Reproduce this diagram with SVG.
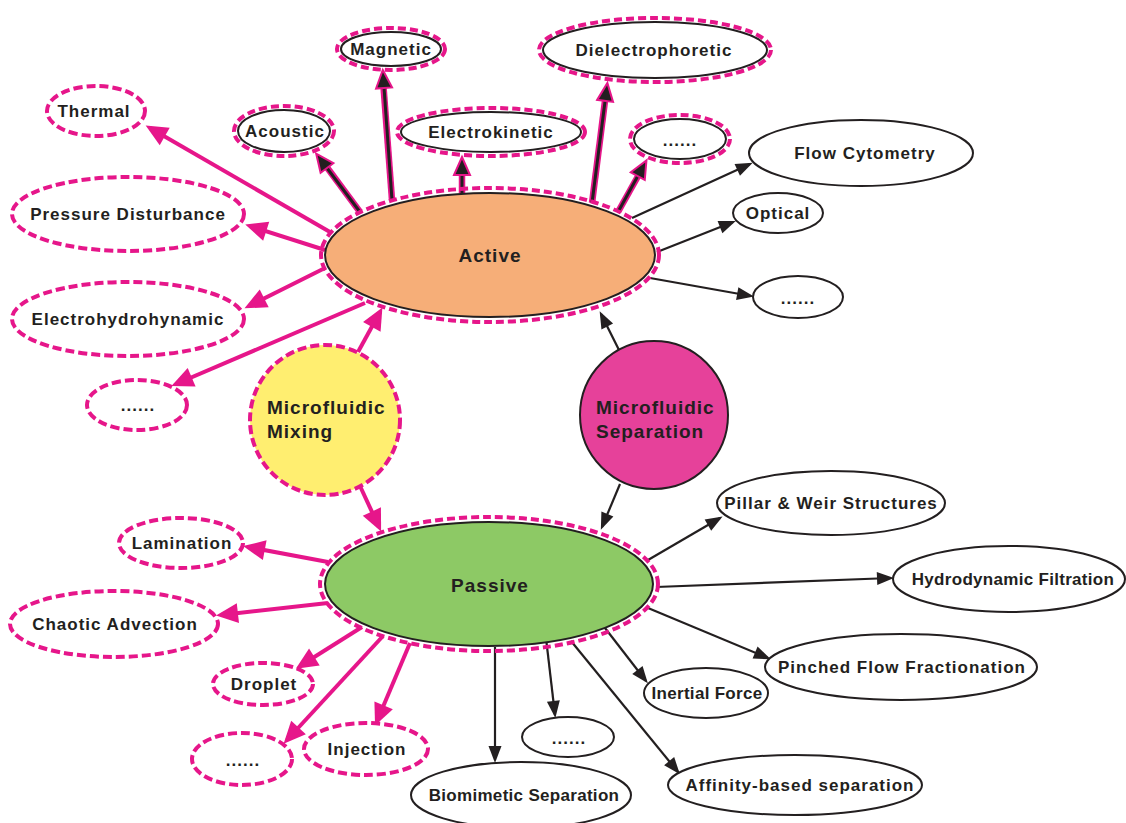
<svg xmlns="http://www.w3.org/2000/svg" width="1126" height="823" viewBox="0 0 1126 823">
<style>
text{font-family:"Liberation Sans",Arial,sans-serif;font-weight:bold;font-size:17px;letter-spacing:1px;fill:#231F20;text-anchor:middle}
.big{font-size:19px}
.lt{text-anchor:start}
.nar{letter-spacing:0.3px}
.pd{fill:#fff;stroke:#E6168A;stroke-width:4;stroke-dasharray:9 4}
.pd2{fill:none;stroke:#E6168A;stroke-width:4;stroke-dasharray:8 4}
.bk{fill:#fff;stroke:#231F20;stroke-width:2}
.pk{fill:none;stroke:#E6168A;stroke-width:4;marker-end:url(#mP)}
.pbo{fill:none;stroke:#E6168A;stroke-width:6.5}
.pbi{fill:none;stroke:#231F20;stroke-width:3;marker-end:url(#mPB)}
.bl{fill:none;stroke:#231F20;stroke-width:2.2;marker-end:url(#mB)}
</style>
<defs>
<marker id="mP" markerUnits="userSpaceOnUse" markerWidth="24" markerHeight="22" refX="17" refY="10" orient="auto" overflow="visible"><path d="M0,0 L22,10 L0,20 z" fill="#E6168A"/></marker>
<marker id="mB" markerUnits="userSpaceOnUse" markerWidth="18" markerHeight="14" refX="14" refY="6.5" orient="auto" overflow="visible"><path d="M0,0 L17,6.5 L0,13 z" fill="#231F20"/></marker>
<marker id="mPB" markerUnits="userSpaceOnUse" markerWidth="20" markerHeight="18" refX="15" refY="8" orient="auto" overflow="visible"><path d="M0,0 L18,8 L0,16 z" fill="#231F20" stroke="#E6168A" stroke-width="2"/></marker>
</defs>
<rect width="1126" height="823" fill="#fff"/>
<g id="connectors">
<path class="pk" d="M330,232 L150,128"/>
<path class="pk" d="M325,250 L250,226"/>
<path class="pk" d="M325,268 L249,306"/>
<path class="pk" d="M365,303 L176,384"/>
<path class="pk" d="M358,352 L380,312"/>
<path class="pk" d="M360,486 L379,527"/>
<path class="pk" d="M328,562 L248,547"/>
<path class="pk" d="M328,603 L221,615"/>
<path class="pk" d="M362,627 L300,666"/>
<path class="pk" d="M383,636 L287,740"/>
<path class="pk" d="M410,643 L377,721"/>
<path class="pbo" d="M360,212 L323,162"/>
<path class="pbi" d="M360,212 L318,156"/>
<path class="pbo" d="M392,200 L383,80"/>
<path class="pbi" d="M392,200 L383,73"/>
<path class="pbo" d="M462,193 L462,166"/>
<path class="pbi" d="M462,193 L462,160"/>
<path class="pbo" d="M592,203 L606,93"/>
<path class="pbi" d="M592,203 L607,86"/>
<path class="pbo" d="M618,212 L642,169"/>
<path class="pbi" d="M618,212 L645,163"/>
<path class="bl" d="M632,218 L750,164"/>
<path class="bl" d="M657,252 L733,222"/>
<path class="bl" d="M650,278 L751,296"/>
<path class="bl" d="M620,352 L601,314"/>
<path class="bl" d="M620,484 L602,527"/>
<path class="bl" d="M648,560 L720,518"/>
<path class="bl" d="M656,587 L891,578"/>
<path class="bl" d="M648,608 L768,658"/>
<path class="bl" d="M605,628 L646,681"/>
<path class="bl" d="M571,641 L678,772"/>
<path class="bl" d="M546,638 L555,715"/>
<path class="bl" d="M495,647 L495,760"/>
</g>
<g id="active">
<ellipse cx="490" cy="255" rx="169" ry="67" class="pd2"/>
<ellipse cx="490" cy="255" rx="165" ry="62" fill="#F6AE78" stroke="#231F20" stroke-width="2"/>
<text x="490" y="262" class="big">Active</text>
</g>
<g id="passive">
<ellipse cx="489" cy="584" rx="169" ry="67" class="pd2"/>
<ellipse cx="489" cy="584" rx="164" ry="62" fill="#8DC965" stroke="#231F20" stroke-width="2"/>
<text x="490" y="592" class="big">Passive</text>
</g>
<g id="mixing">
<circle cx="325" cy="420" r="75" fill="#FFEE70" stroke="#E6168A" stroke-width="4" stroke-dasharray="9 4"/>
<text x="267" y="414" class="big lt">Microfluidic</text>
<text x="267" y="438" class="big lt">Mixing</text>
</g>
<g id="separation">
<circle cx="654" cy="415" r="74" fill="#E6419A" stroke="#231F20" stroke-width="2"/>
<text x="596" y="414" class="big lt">Microfluidic</text>
<text x="596" y="438" class="big lt">Separation</text>
</g>
<g id="thermal"><ellipse cx="96" cy="111" rx="49" ry="25" class="pd"/><text x="94" y="117">Thermal</text></g>
<g id="pressure"><ellipse cx="128" cy="214" rx="116" ry="37" class="pd"/><text x="128" y="220">Pressure Disturbance</text></g>
<g id="ehd"><ellipse cx="128" cy="319" rx="116" ry="37" class="pd"/><text x="128" y="325">Electrohydrohynamic</text></g>
<g id="active-more-left"><ellipse cx="137" cy="405" rx="50" ry="25" class="pd"/><text x="138" y="411">......</text></g>
<g id="acoustic"><ellipse cx="284" cy="131" rx="50" ry="25" class="pd2"/><ellipse cx="284" cy="131" rx="46" ry="21" class="bk"/><text x="285" y="137">Acoustic</text></g>
<g id="magnetic"><ellipse cx="391" cy="49" rx="54" ry="21" class="pd2"/><ellipse cx="391" cy="49" rx="50" ry="17" class="bk"/><text x="391" y="55">Magnetic</text></g>
<g id="electrokinetic"><ellipse cx="491" cy="132" rx="94" ry="24" class="pd2"/><ellipse cx="491" cy="132" rx="90" ry="20" class="bk"/><text x="491" y="138">Electrokinetic</text></g>
<g id="dielectrophoretic"><ellipse cx="655" cy="50" rx="116" ry="32" class="pd2"/><ellipse cx="655" cy="50" rx="112" ry="28" class="bk"/><text x="654" y="56">Dielectrophoretic</text></g>
<g id="active-more-top"><ellipse cx="680" cy="139" rx="50" ry="24" class="pd2"/><ellipse cx="680" cy="139" rx="46" ry="20" class="bk"/><text x="680" y="146">......</text></g>
<g id="flow-cytometry"><ellipse cx="861" cy="153" rx="112" ry="33" class="bk"/><text x="865" y="159">Flow Cytometry</text></g>
<g id="optical"><ellipse cx="778" cy="213" rx="45" ry="20" class="bk"/><text x="778" y="219">Optical</text></g>
<g id="active-more-right"><ellipse cx="798" cy="297" rx="45" ry="21" class="bk"/><text x="798" y="304">......</text></g>
<g id="pillar"><ellipse cx="831" cy="503" rx="114" ry="32" class="bk"/><text x="831" y="509">Pillar &amp; Weir Structures</text></g>
<g id="hydrodynamic"><ellipse cx="1009" cy="579" rx="116" ry="33" class="bk"/><text x="1013" y="585" class="nar">Hydrodynamic Filtration</text></g>
<g id="pinched"><ellipse cx="901" cy="667" rx="136" ry="33" class="bk"/><text x="902" y="673">Pinched Flow Fractionation</text></g>
<g id="inertial"><ellipse cx="706" cy="693" rx="62" ry="25" class="bk"/><text x="707" y="699" class="nar">Inertial Force</text></g>
<g id="passive-more-sep"><ellipse cx="568" cy="737" rx="46" ry="20" class="bk"/><text x="569" y="744">......</text></g>
<g id="biomimetic"><ellipse cx="521" cy="795" rx="110" ry="33" class="bk"/><text x="524" y="801" class="nar">Biomimetic Separation</text></g>
<g id="affinity"><ellipse cx="795" cy="785" rx="127" ry="30" class="bk"/><text x="800" y="791">Affinity-based separation</text></g>
<g id="lamination"><ellipse cx="181" cy="543" rx="62" ry="25" class="pd"/><text x="182" y="549">Lamination</text></g>
<g id="chaotic"><ellipse cx="114" cy="624" rx="104" ry="33" class="pd"/><text x="115" y="630">Chaotic Advection</text></g>
<g id="droplet"><ellipse cx="263" cy="684" rx="50" ry="21" class="pd"/><text x="264" y="690">Droplet</text></g>
<g id="passive-more-mix"><ellipse cx="242" cy="759" rx="50" ry="26" class="pd"/><text x="243" y="766">......</text></g>
<g id="injection"><ellipse cx="366" cy="749" rx="62" ry="26" class="pd"/><text x="367" y="755">Injection</text></g>
</svg>
